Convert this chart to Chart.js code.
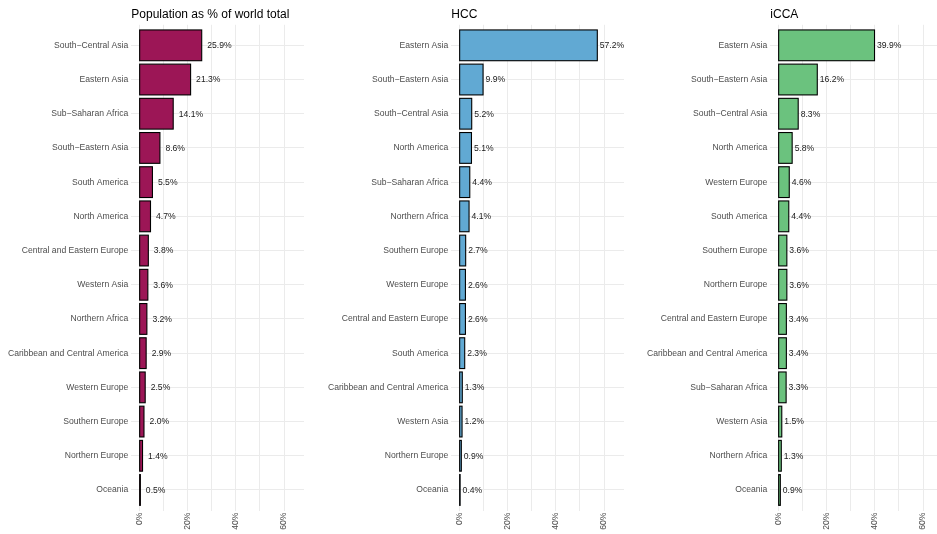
<!DOCTYPE html>
<html lang="en">
<head>
<meta charset="UTF-8">
<title>Regional share: population, HCC and iCCA</title>
<style>
  *{box-sizing:border-box;margin:0;padding:0}
  html,body{width:937px;height:534px;overflow:hidden;background:#fff}
  .panel{position:absolute;top:0}
  .panel canvas{display:block}
</style>
</head>
<body>
<div class="panel" style="left:0px"><canvas id="chartPop" width="320" height="534"></canvas></div>
<div class="panel" style="left:320px"><canvas id="chartHcc" width="320" height="534"></canvas></div>
<div class="panel" style="left:639px"><canvas id="chartIcca" width="320" height="534"></canvas></div>

<script src="https://cdn.jsdelivr.net/npm/chart.js@4"></script>
<script>
// regions per panel, top to bottom
const popRegions = ['South−Central Asia','Eastern Asia','Sub−Saharan Africa','South−Eastern Asia','South America','North America','Central and Eastern Europe','Western Asia','Northern Africa','Caribbean and Central America','Western Europe','Southern Europe','Northern Europe','Oceania'];
const popValues = [25.9,21.3,14.1,8.6,5.5,4.7,3.8,3.6,3.2,2.9,2.5,2.0,1.4,0.5];

const hccRegions = ['Eastern Asia','South−Eastern Asia','South−Central Asia','North America','Sub−Saharan Africa','Northern Africa','Southern Europe','Western Europe','Central and Eastern Europe','South America','Caribbean and Central America','Western Asia','Northern Europe','Oceania'];
const hccValues = [57.2,9.9,5.2,5.1,4.4,4.1,2.7,2.6,2.6,2.3,1.3,1.2,0.9,0.4];

const iccaRegions = ['Eastern Asia','South−Eastern Asia','South−Central Asia','North America','Western Europe','South America','Southern Europe','Northern Europe','Central and Eastern Europe','Caribbean and Central America','Sub−Saharan Africa','Western Asia','Northern Africa','Oceania'];
const iccaValues = [39.9,16.2,8.3,5.8,4.6,4.4,3.6,3.6,3.4,3.4,3.3,1.5,1.3,0.9];

const xTicks = [0,10,20,30,40,50,60];

const FONT = '"Liberation Sans", Arial, Helvetica, sans-serif';
const GRID = '#EBEBEB';

// black outline centred on each bar edge, then "xx.x%" just right of the bar
const barDecor = {
  id: 'barDecor',
  afterDatasetsDraw(chart, args, opts) {
    const ctx = chart.ctx;
    const meta = chart.getDatasetMeta(0);
    const ds = chart.data.datasets[0];
    ctx.save();
    ctx.strokeStyle = '#000';
    ctx.lineWidth = 1.1;
    meta.data.forEach(bar => {
      const p = bar.getProps(['x', 'y', 'base', 'height']);
      const left = Math.min(p.base, p.x);
      ctx.strokeRect(left, p.y - p.height / 2, Math.abs(p.x - p.base), p.height);
    });
    ctx.font = '8.6px ' + FONT;
    ctx.fillStyle = '#1a1a1a';
    ctx.textAlign = 'left';
    ctx.textBaseline = 'middle';
    meta.data.forEach((bar, i) => {
      ctx.fillText(ds.data[i].x.toFixed(1) + '%', bar.x + opts.gap, bar.y + 0.5);
    });
    ctx.restore();
  }
};

function makePanel(id, title, regions, values, color, gap) {
  new Chart(document.getElementById(id), {
    type: 'bar',
    data: {
      datasets: [{
        data: values.map((v, i) => ({ x: v, y: i })),
        backgroundColor: color,
        borderWidth: 0,
        barPercentage: 0.9,
        categoryPercentage: 1
      }]
    },
    options: {
      indexAxis: 'y',
      responsive: false,
      animation: false,
      layout: { padding: { left: 0, right: 16, top: 0, bottom: 0 } },
      plugins: {
        legend: { display: false },
        tooltip: { enabled: false },
        title: {
          display: true,
          text: title,
          align: 'start',
          fullSize: false,
          color: '#000',
          font: { family: FONT, size: 12, weight: 'normal', lineHeight: 1.2 },
          padding: { top: 7, bottom: 3.4 }
        },
        barDecor: { gap: gap }
      },
      scales: {
        x: {
          type: 'linear',
          min: -3.25,
          max: 68.25,
          afterBuildTicks: s => { s.ticks = xTicks.map(v => ({ value: v })); },
          afterFit: s => { s.height = 23.5; },
          border: { display: false },
          grid: { color: GRID, lineWidth: 1, drawTicks: false },
          ticks: {
            autoSkip: false,
            minRotation: 90,
            maxRotation: 90,
            padding: 2,
            color: '#4D4D4D',
            font: { family: FONT, size: 8.6 },
            callback: v => (v % 20 === 0 ? v + '%' : '')
          }
        },
        y: {
          type: 'linear',
          reverse: true,
          min: -0.6,
          max: 13.6,
          offset: false,
          afterBuildTicks: s => { s.ticks = regions.map((r, i) => ({ value: i })); },
          afterFit: s => { s.width = 131.3; },
          border: { display: false },
          grid: { color: GRID, lineWidth: 1, drawTicks: false, offset: false },
          ticks: {
            autoSkip: false,
            padding: 3,
            color: '#4D4D4D',
            font: { family: FONT, size: 8.6 },
            callback: v => regions[v]
          }
        }
      }
    },
    plugins: [barDecor]
  });
}

makePanel('chartPop', 'Population as % of world total', popRegions, popValues, '#9C1656', 5.5);
makePanel('chartHcc', 'HCC', hccRegions, hccValues, '#61A9D3', 2.5);
makePanel('chartIcca', 'iCCA', iccaRegions, iccaValues, '#6BC27E', 2.5);
</script>
</body>
</html>
